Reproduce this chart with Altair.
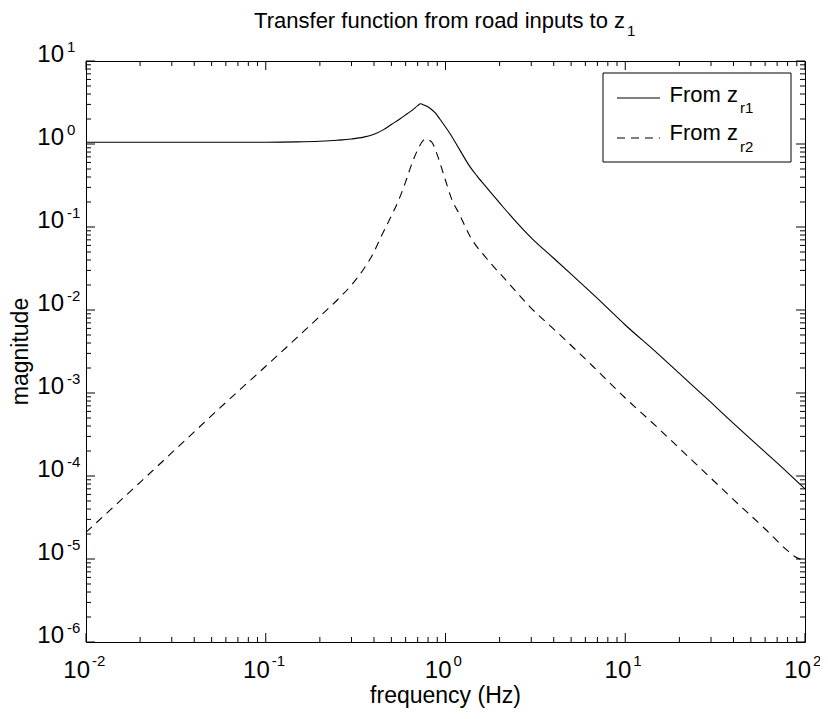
import altair as alt
import pandas as pd

# ---------------- data ----------------
solid_freq = [0.01, 0.03, 0.06, 0.1, 0.15, 0.2, 0.25, 0.3, 0.35, 0.4, 0.45, 0.5,
              0.557, 0.61, 0.66, 0.7, 0.726, 0.76, 0.82, 0.88, 0.93, 1.0, 1.06, 1.2,
              1.37, 1.5, 1.69, 2.0, 2.5, 3.0, 4.0, 5.0, 7.0, 10.0, 15.0, 20.0, 30.0,
              40.0, 60.0, 80.0, 100.0]
solid_mag = [1.05, 1.05, 1.05, 1.05, 1.06, 1.08, 1.11, 1.15, 1.21, 1.31, 1.48, 1.72,
             2.0, 2.3, 2.6, 2.9, 3.05, 2.95, 2.7, 2.35, 2.0, 1.6, 1.33, 0.85,
             0.53, 0.41, 0.30, 0.195, 0.112, 0.074, 0.042, 0.027, 0.0138, 0.0066,
             0.00305, 0.00172, 7.7e-4, 4.3e-4, 1.94e-4, 1.1e-4, 7.0e-5]

dashed_freq = [0.01, 0.02, 0.04, 0.06, 0.082, 0.1, 0.15, 0.2, 0.25, 0.3, 0.35, 0.4,
               0.44, 0.49, 0.546, 0.6, 0.65, 0.7, 0.75, 0.78, 0.81, 0.84, 0.91, 0.99,
               1.08, 1.2, 1.37, 1.69, 2.18, 2.94, 4.3, 6.6, 10.0, 15.0, 20.0, 30.0,
               40.0, 60.0, 80.0, 89.0, 100.0]
dashed_mag = [2.1e-5, 8.4e-5, 3.4e-4, 7.7e-4, 1.42e-3, 2.1e-3, 4.7e-3, 8.4e-3, 1.32e-2,
              2.0e-2, 3.1e-2, 5.0e-2, 0.078, 0.125, 0.205, 0.35, 0.58, 0.85, 1.1, 1.15,
              1.12, 1.05, 0.69, 0.39, 0.22, 0.14, 0.077, 0.042, 0.0226, 0.011, 0.0051,
              0.0021, 8.7e-4, 3.9e-4, 2.16e-4, 9.4e-5, 5.2e-5, 2.3e-5, 1.26e-5, 1.05e-5,
              9.6e-6]

x_decades = [-2, -1, 0, 1, 2]
y_decades = [-6, -5, -4, -3, -2, -1, 0, 1]
minor_mult = [2, 3, 4, 5, 6, 7, 8, 9]

title_main = "Transfer function from road inputs to z"
title_sub = "1"
x_title = "frequency (Hz)"
y_title = "magnitude"
legend_main = ["From z", "From z"]
legend_sub = ["r1", "r2"]

# ---------------- styling ----------------
W, H = 719, 581
FONT = "'Liberation Sans Narrow', 'Arial Narrow', 'Liberation Sans', Arial, sans-serif"
MAJ, MIN = 9, 5

xs = alt.Scale(type="log", domain=[0.01, 100])
ys = alt.Scale(type="log", domain=[1e-6, 10])

solid_df = pd.DataFrame({"f": solid_freq, "m": solid_mag})
dashed_df = pd.DataFrame({"f": dashed_freq, "m": dashed_mag})

one = pd.DataFrame({"k": [0]})

solid = alt.Chart(solid_df).mark_line(color="black", strokeWidth=1.1, interpolate="monotone").encode(
    x=alt.X("f:Q", scale=xs, axis=None), y=alt.Y("m:Q", scale=ys, axis=None))
dashed = alt.Chart(dashed_df).mark_line(color="black", strokeWidth=1.1, strokeDash=[8, 6],
                                        interpolate="monotone").encode(
    x=alt.X("f:Q", scale=xs, axis=None), y=alt.Y("m:Q", scale=ys, axis=None))

x_major = pd.DataFrame({"v": [10.0 ** e for e in x_decades]})
x_minor = pd.DataFrame({"v": [m * 10.0 ** e for e in x_decades[:-1] for m in minor_mult]})
y_major = pd.DataFrame({"v": [10.0 ** e for e in y_decades]})
y_minor = pd.DataFrame({"v": [m * 10.0 ** e for e in y_decades[:-1] for m in minor_mult]})

layers = [solid, dashed]


def xt(df, L):
    b = alt.Chart(df).mark_rule(color="black", strokeWidth=1).encode(
        x=alt.X("v:Q", scale=xs, axis=None), y=alt.value(H), y2=alt.value(H - L))
    t = alt.Chart(df).mark_rule(color="black", strokeWidth=1).encode(
        x=alt.X("v:Q", scale=xs, axis=None), y=alt.value(0), y2=alt.value(L))
    return [b, t]


def yt(df, L):
    l = alt.Chart(df).mark_rule(color="black", strokeWidth=1).encode(
        y=alt.Y("v:Q", scale=ys, axis=None), x=alt.value(0), x2=alt.value(L))
    r = alt.Chart(df).mark_rule(color="black", strokeWidth=1).encode(
        y=alt.Y("v:Q", scale=ys, axis=None), x=alt.value(W), x2=alt.value(W - L))
    return [l, r]


layers += xt(x_major, MAJ) + xt(x_minor, MIN) + yt(y_major, MAJ) + yt(y_minor, MIN)

# tick labels: "10" with superscript exponent
xl_neg = pd.DataFrame({"v": [10.0 ** e for e in x_decades if e < 0],
                       "e": [str(e) for e in x_decades if e < 0]})
xl_pos = pd.DataFrame({"v": [10.0 ** e for e in x_decades if e >= 0],
                       "e": [str(e) for e in x_decades if e >= 0]})
for df, d10 in ((xl_neg, 4), (xl_pos, 6)):
    layers.append(alt.Chart(df).mark_text(align="right", baseline="alphabetic", dx=d10,
                                          font=FONT, fontSize=24, color="black").encode(
        x=alt.X("v:Q", scale=xs, axis=None), y=alt.value(H + 36), text=alt.value("10")))
    layers.append(alt.Chart(df).mark_text(align="left", baseline="alphabetic", dx=d10 + 2,
                                          font=FONT, fontSize=15, color="black").encode(
        x=alt.X("v:Q", scale=xs, axis=None), y=alt.value(H + 24), text=alt.Text("e:N")))

yl = pd.DataFrame({"v": [10.0 ** e for e in y_decades], "e": [str(e) for e in y_decades]})
layers.append(alt.Chart(yl).mark_text(align="right", baseline="alphabetic", dy=1,
                                      font=FONT, fontSize=24, color="black").encode(
    y=alt.Y("v:Q", scale=ys, axis=None), x=alt.value(-22), text=alt.value("10")))
layers.append(alt.Chart(yl).mark_text(align="left", baseline="alphabetic", dy=-9,
                                      font=FONT, fontSize=15, color="black").encode(
    y=alt.Y("v:Q", scale=ys, axis=None), x=alt.value(-19), text=alt.Text("e:N")))

# axis titles
layers.append(alt.Chart(one).mark_text(align="center", baseline="alphabetic", font=FONT,
                                       fontSize=23, color="black").encode(
    x=alt.value(W / 2), y=alt.value(H + 61), text=alt.value(x_title)))
layers.append(alt.Chart(one).mark_text(align="center", baseline="middle", angle=270, font=FONT,
                                       fontSize=23, color="black").encode(
    x=alt.value(-65), y=alt.value(H / 2), text=alt.value(y_title)))

# title with subscript
layers.append(alt.Chart(one).mark_text(align="right", baseline="alphabetic", font=FONT,
                                       fontSize=22, color="black").encode(
    x=alt.value(539), y=alt.value(-33), text=alt.value(title_main)))
layers.append(alt.Chart(one).mark_text(align="left", baseline="alphabetic", font=FONT,
                                       fontSize=15, color="black").encode(
    x=alt.value(541), y=alt.value(-25), text=alt.value(title_sub)))

# legend
layers.append(alt.Chart(one).mark_rect(fill="white", stroke="black", strokeWidth=1).encode(
    x=alt.value(517), x2=alt.value(705), y=alt.value(12), y2=alt.value(101)))
layers.append(alt.Chart(one).mark_rule(color="black", strokeWidth=1.1).encode(
    x=alt.value(531), x2=alt.value(574), y=alt.value(37)))
layers.append(alt.Chart(one).mark_rule(color="black", strokeWidth=1.1, strokeDash=[8, 6]).encode(
    x=alt.value(531), x2=alt.value(574), y=alt.value(77)))
for i, (yb, ys_) in enumerate(((41, 52), (79, 91))):
    layers.append(alt.Chart(one).mark_text(align="right", baseline="alphabetic", font=FONT,
                                           fontSize=22, color="black").encode(
        x=alt.value(652), y=alt.value(yb), text=alt.value(legend_main[i])))
    layers.append(alt.Chart(one).mark_text(align="left", baseline="alphabetic", font=FONT,
                                           fontSize=15, color="black").encode(
        x=alt.value(654), y=alt.value(ys_), text=alt.value(legend_sub[i])))

chart = alt.layer(*layers).properties(
    width=W, height=H,
    autosize=alt.AutoSizeParams(type="none"),
    padding={"left": 78, "top": 53, "right": 15, "bottom": 68},
    background="white",
).configure_view(stroke="black", strokeWidth=1)

chart.save("out.html", embed_options={"renderer": "svg", "actions": False})
